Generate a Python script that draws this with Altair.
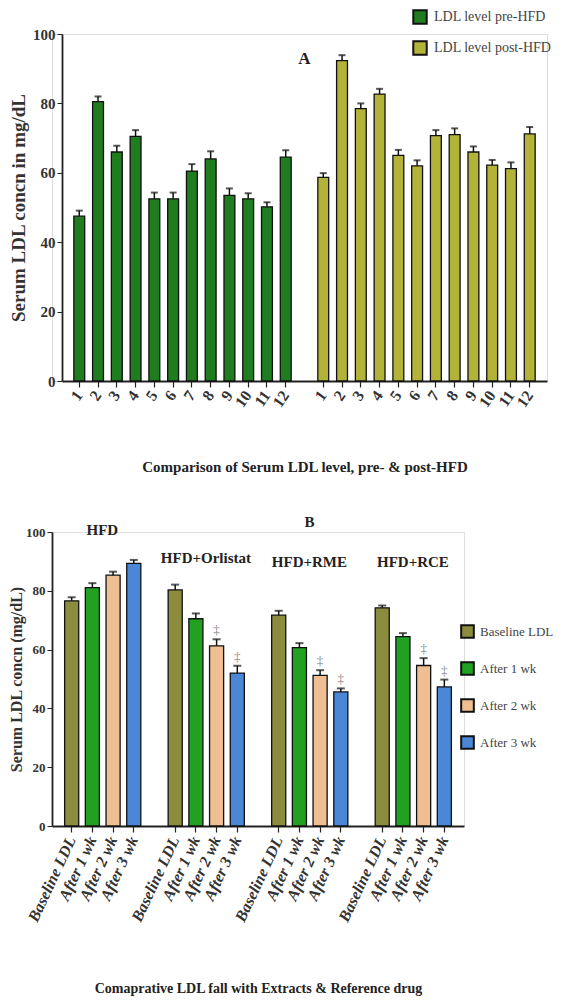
import altair as alt
import pandas as pd

# ---------------- Panel A data ----------------
subjects = ["1", "2", "3", "4", "5", "6", "7", "8", "9", "10", "11", "12"]
pre_vals = [47.5, 80.5, 66.0, 70.5, 52.5, 52.5, 60.5, 64.0, 53.5, 52.5, 50.2, 64.5]
pre_err = [1.6, 1.5, 1.8, 1.8, 1.8, 1.8, 2.0, 2.2, 2.0, 1.6, 1.3, 2.0]
post_vals = [58.7, 92.3, 78.5, 82.7, 65.0, 62.0, 70.7, 71.0, 66.0, 62.2, 61.2, 71.2]
post_err = [1.2, 1.6, 1.5, 1.5, 1.6, 1.6, 1.6, 1.8, 1.6, 1.5, 1.8, 2.0]
phase_names = ["LDL level pre-HFD", "LDL level post-HFD"]
phase_colors = ["#1f7d1f", "#b3b33a"]

# ---------------- Panel B data ----------------
groups = ["HFD", "HFD+Orlistat", "HFD+RME", "HFD+RCE"]
weeks = ["Baseline LDL", "After 1 wk", "After 2 wk", "After 3 wk"]
hfd_vals = [76.6, 81.1, 85.3, 89.3]
orl_vals = [80.3, 70.5, 61.3, 52.0]
rme_vals = [71.7, 60.7, 51.2, 45.6]
rce_vals = [74.2, 64.4, 54.6, 47.3]
hfd_err = [1.2, 1.5, 1.2, 1.2]
orl_err = [1.8, 1.8, 2.2, 2.5]
rme_err = [1.5, 1.5, 1.8, 1.2]
rce_err = [0.8, 1.2, 2.5, 2.5]
group_label_y = [100.6, 91.0, 89.8, 89.8]
week_colors = ["#8c8c3e", "#22a022", "#efbf93", "#4a87d6"]
sig_mark = "‡"

FONT = "Liberation Serif"

# ---------- build table A ----------
rows = []
order_a = []
for ph, vals, errs, pre in [(phase_names[0], pre_vals, pre_err, "pre"),
                            (phase_names[1], post_vals, post_err, "post")]:
    for s, v, e in zip(subjects, vals, errs):
        key = f"{pre} {s}"
        order_a.append(key)
        rows.append({"key": key, "phase": ph, "value": v, "hi": v + e})
    if pre == "pre":
        order_a.append("gap A")
dfa = pd.DataFrame(rows)
tick_keys_a = [k for k in order_a if not k.startswith("gap")]

xa = alt.X("key:N", sort=order_a,
           scale=alt.Scale(domain=order_a, range=[10, 495],
                           paddingInner=0.42, paddingOuter=0.63),
           axis=alt.Axis(values=tick_keys_a, labelExpr="split(datum.label, ' ')[1]",
                         labelAngle=-55, labelAlign="right", labelBaseline="middle",
                         labelFont=FONT, labelFontWeight="bold", labelFontSize=16,
                         labelColor="#333", labelPadding=5,
                         tickSize=6, tickColor="#222", tickWidth=1.2,
                         domainColor="#222", domainWidth=1.8,
                         title="Comparison of Serum LDL level, pre- & post-HFD",
                         titleFont=FONT, titleFontSize=15, titleFontWeight="bold",
                         titleColor="#222", titlePadding=50))
ya = alt.Y("value:Q", scale=alt.Scale(domain=[0, 100], nice=False),
           axis=alt.Axis(values=[0, 20, 40, 60, 80, 100], grid=False, offset=-10,
                         labelFont=FONT, labelFontWeight="bold", labelFontSize=15,
                         labelColor="#333", tickSize=5, tickColor="#222",
                         domainColor="#222", domainWidth=1.8,
                         title="Serum LDL concn in mg/dL", titleFont=FONT,
                         titleFontSize=19, titleFontWeight="bold", titleColor="#333",
                         titlePadding=4))

base_a = alt.Chart(dfa)
bars_a = base_a.mark_bar(stroke="#111", strokeWidth=1.3).encode(
    x=xa, y=ya,
    color=alt.Color("phase:N", sort=phase_names,
                    scale=alt.Scale(domain=phase_names, range=phase_colors),
                    legend=alt.Legend(title=None, orient="none", legendX=360, legendY=-25,
                                      padding=0,
                                      symbolType="square", symbolSize=180,
                                      symbolStrokeColor="#111", symbolStrokeWidth=2,
                                      labelFont=FONT, labelFontSize=14, labelColor="#444",
                                      rowPadding=9, labelOffset=6)))
err_a = base_a.mark_rule(color="#111", strokeWidth=1.5).encode(
    x=alt.X("key:N", sort=order_a), y="value:Q", y2="hi:Q")
cap_a = base_a.mark_tick(color="#111", thickness=2, size=7).encode(
    x=alt.X("key:N", sort=order_a), y="hi:Q")
lab_a = alt.Chart(pd.DataFrame({"key": ["gap A"], "value": [92.8], "t": ["A"]})).mark_text(
    font=FONT, fontSize=17, fontWeight="bold", color="#222").encode(
    x=alt.X("key:N", sort=order_a), y="value:Q", text="t:N")

chart_a = alt.layer(bars_a, err_a, cap_a, lab_a).properties(width=495, height=347)

# ---------- build table B ----------
rows = []
order_b = []
all_vals = [hfd_vals, orl_vals, rme_vals, rce_vals]
all_errs = [hfd_err, orl_err, rme_err, rce_err]
for gi, (g, vals, errs) in enumerate(zip(groups, all_vals, all_errs)):
    for w, v, e in zip(weeks, vals, errs):
        key = f"{g}|{w}"
        order_b.append(key)
        sig = sig_mark if (gi > 0 and w in ("After 2 wk", "After 3 wk")) else ""
        rows.append({"key": key, "week": w, "value": v, "hi": v + e, "sig": sig})
    if gi < len(groups) - 1:
        order_b.append(f"gap{gi}")
dfb = pd.DataFrame(rows)
tick_keys_b = [k for k in order_b if not k.startswith("gap")]

xb = alt.X("key:N", sort=order_b,
           scale=alt.Scale(domain=order_b, paddingInner=0.32, paddingOuter=0.61),
           axis=alt.Axis(values=tick_keys_b, labelExpr="split(datum.label, '|')[1]",
                         labelAngle=-65, labelAlign="right", labelBaseline="middle",
                         labelFont=FONT, labelFontWeight="bold", labelFontStyle="italic",
                         labelFontSize=16, labelColor="#333", labelPadding=5,
                         tickSize=6, tickColor="#222", tickWidth=1.2,
                         domainColor="#222", domainWidth=1.8,
                         title="Comaprative LDL fall with Extracts & Reference drug",
                         titleFont=FONT, titleFontSize=14, titleFontWeight="bold",
                         titleColor="#222", titlePadding=58))
yb = alt.Y("value:Q", scale=alt.Scale(domain=[0, 100], nice=False),
           axis=alt.Axis(values=[0, 20, 40, 60, 80, 100], grid=False,
                         labelFont=FONT, labelFontWeight="bold", labelFontSize=13,
                         labelColor="#333", tickSize=5, tickColor="#222",
                         domainColor="#222", domainWidth=1.8,
                         title="Serum LDL concn (mg/dL)", titleFont=FONT,
                         titleFontSize=16, titleFontWeight="bold", titleColor="#333",
                         titlePadding=1))

base_b = alt.Chart(dfb)
bars_b = base_b.mark_bar(stroke="#111", strokeWidth=1.3).encode(
    x=xb, y=yb,
    color=alt.Color("week:N", sort=weeks,
                    scale=alt.Scale(domain=weeks, range=week_colors),
                    legend=alt.Legend(title=None, orient="none", legendX=408, legendY=92,
                                      padding=0,
                                      symbolType="square", symbolSize=160,
                                      symbolStrokeColor="#111", symbolStrokeWidth=2,
                                      labelFont=FONT, labelFontSize=13, labelColor="#444",
                                      rowPadding=16, labelOffset=5)))
err_b = base_b.mark_rule(color="#111", strokeWidth=1.5).encode(
    x=alt.X("key:N", sort=order_b), y="value:Q", y2="hi:Q")
cap_b = base_b.mark_tick(color="#111", thickness=2, size=8).encode(
    x=alt.X("key:N", sort=order_b), y="hi:Q")
sig_b = base_b.mark_text(font=FONT, fontSize=13, dy=-9).encode(
    x=alt.X("key:N", sort=order_b), y="hi:Q", text="sig:N",
    color=alt.value("#888888"))

grp_df = pd.DataFrame({"key": [f"{g}|After 1 wk" for g in groups] + [f"{groups[2]}|After 1 wk"],
                       "value": group_label_y + [103.5],
                       "t": groups + ["B"]})
grp_b = alt.Chart(grp_df).mark_text(font=FONT, fontSize=15, fontWeight="bold",
                                    color="#222", dx=10).encode(
    x=alt.X("key:N", sort=order_b), y="value:Q", text="t:N")

chart_b = alt.layer(bars_b, err_b, cap_b, sig_b, grp_b).properties(width=412, height=294)

chart = alt.concat(chart_a, chart_b, columns=1, spacing=38, align="none",
                   padding={"left": 0, "top": 0, "right": 0, "bottom": 0}).resolve_scale(
    color="independent").configure_view(stroke=None).configure(background="white")
chart.save("out.html", embed_options={"renderer": "svg", "actions": False})
